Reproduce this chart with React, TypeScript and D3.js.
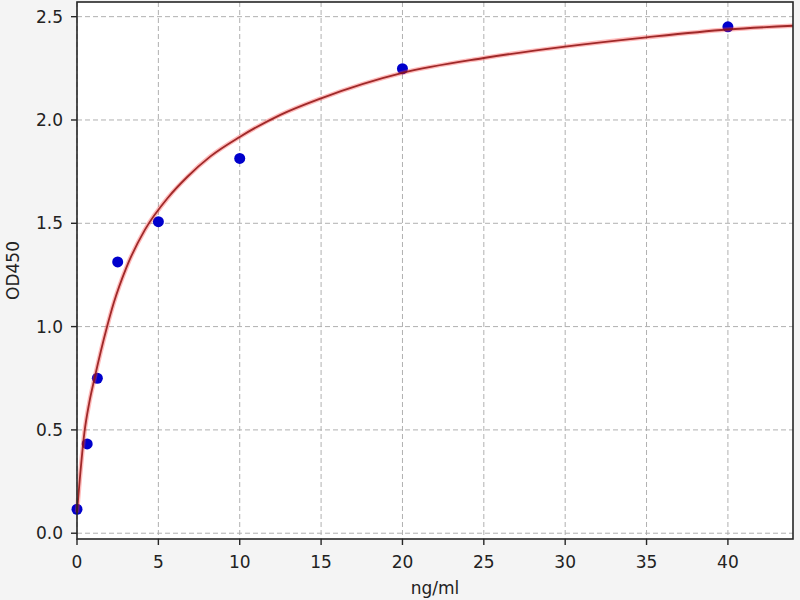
import React from 'react';
import * as d3 from 'd3';

// standard concentrations (ng/ml) and measured OD450
const concentrations = [0, 0.625, 1.25, 2.5, 5, 10, 20, 40];
const odValues = [0.116, 0.432, 0.75, 1.313, 1.508, 1.814, 2.248, 2.451];

// fitted curve
const curveX = [0, 0.17, 0.46, 0.75, 1.08, 1.85, 2.26, 3.04, 4.17, 5.6, 6.77, 8.2, 10, 12.5, 15, 20, 25, 30, 35, 40, 44];
const curveY = [0.1, 0.26, 0.49, 0.63, 0.75, 1.0, 1.115, 1.287, 1.468, 1.625, 1.724, 1.824, 1.918, 2.025, 2.105, 2.228, 2.3, 2.355, 2.4, 2.438, 2.456];

const xTicks = [0, 5, 10, 15, 20, 25, 30, 35, 40];
const yTicks = [0, 0.5, 1.0, 1.5, 2.0, 2.5];

const width = 800;
const height = 600;
const margin = { top: 2, right: 7, bottom: 61, left: 77 };
const font = 'DejaVu Sans, sans-serif';
const fontSize = 17;

export default function App() {
  const innerW = width - margin.left - margin.right;
  const innerH = height - margin.top - margin.bottom;

  const x = d3.scaleLinear().domain([0, 44]).range([0, innerW]);
  const y = d3.scaleLinear().domain([-0.028, 2.571]).range([innerH, 0]);

  const line = d3
    .line<number>()
    .x((d, i) => x(curveX[i]))
    .y((d) => y(d))
    .curve(d3.curveMonotoneX);
  const path = line(curveY) || '';

  return (
    <div style={{ position: 'fixed', left: 0, top: 0 }}>
      <svg width={width} height={height} style={{ display: 'block', background: '#f4f4f4' }}>
        <g transform={`translate(${margin.left},${margin.top})`}>
          <rect width={innerW} height={innerH} fill="#ffffff" />

          {/* grid */}
          {xTicks.map((t) => (
            <line key={'gx' + t} x1={x(t)} x2={x(t)} y1={0} y2={innerH}
              stroke="#b0b0b0" strokeWidth={1} strokeDasharray="5,3" />
          ))}
          {yTicks.map((t) => (
            <line key={'gy' + t} x1={0} x2={innerW} y1={y(t)} y2={y(t)}
              stroke="#b0b0b0" strokeWidth={1} strokeDasharray="5,3" />
          ))}

          {/* points */}
          {concentrations.map((c, i) => (
            <circle key={'p' + i} cx={x(c)} cy={y(odValues[i])} r={5.5} fill="#0000cc" />
          ))}

          {/* fitted curve */}
          <path d={path} fill="none" stroke="rgba(255,60,60,0.35)" strokeWidth={4.5} />
          <path d={path} fill="none" stroke="#8e0f0f" strokeOpacity={0.85} strokeWidth={1.8} />

          {/* frame */}
          <rect width={innerW} height={innerH} fill="none" stroke="#262626" strokeWidth={1.6} />

          {/* x axis */}
          {xTicks.map((t) => (
            <g key={'tx' + t} transform={`translate(${x(t)},${innerH})`}>
              <line y1={0} y2={6} stroke="#262626" strokeWidth={1.4} />
              <text y={28.5} textAnchor="middle" fontFamily={font} fontSize={fontSize} fill="#222">
                {t}
              </text>
            </g>
          ))}
          <text x={innerW / 2} y={innerH + 55} textAnchor="middle" fontFamily={font} fontSize={fontSize} fill="#222">
            ng/ml
          </text>

          {/* y axis */}
          {yTicks.map((t) => (
            <g key={'ty' + t} transform={`translate(0,${y(t)})`}>
              <line x1={-6} x2={0} stroke="#262626" strokeWidth={1.4} />
              <text x={-14} dy="0.35em" textAnchor="end" fontFamily={font} fontSize={fontSize} fill="#222">
                {t.toFixed(1)}
              </text>
            </g>
          ))}
          <text transform={`translate(${-58.5},${innerH / 2}) rotate(-90)`}
            textAnchor="middle" fontFamily={font} fontSize={fontSize} fill="#222">
            OD450
          </text>
        </g>
      </svg>
    </div>
  );
}
